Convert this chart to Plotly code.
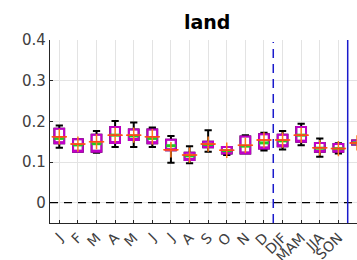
import plotly.graph_objects as go

categories = ["J", "F", "M", "A", "M", "J", "J", "A", "S", "O", "N", "D",
              "DJF", "MAM", "JJA", "SON", ""]
positions = list(range(1, 18))

upper_whisker = [0.190, 0.156, 0.176, 0.201, 0.197, 0.185, 0.164, 0.139, 0.178, 0.137, 0.166, 0.172,
                 0.176, 0.194, 0.158, 0.146, 0.153]
box_top = [0.182, 0.156, 0.167, 0.186, 0.180, 0.180, 0.155, 0.123, 0.150, 0.137, 0.163, 0.168,
           0.167, 0.186, 0.147, 0.144, 0.153]
medians = [0.162, 0.144, 0.150, 0.166, 0.166, 0.162, 0.130, 0.117, 0.144, 0.129, 0.141, 0.154,
           0.154, 0.166, 0.135, 0.133, 0.147]
green_mid = [0.158, 0.142, 0.145, 0.166, 0.164, 0.158, 0.140, 0.115, 0.143, 0.128, 0.139, 0.147,
             0.152, 0.166, 0.134, 0.133, 0.147]
box_bottom = [0.146, 0.125, 0.125, 0.147, 0.154, 0.146, 0.129, 0.105, 0.136, 0.121, 0.121, 0.133,
              0.139, 0.150, 0.125, 0.125, 0.143]
lower_whisker = [0.135, 0.125, 0.123, 0.137, 0.137, 0.137, 0.098, 0.097, 0.125, 0.117, 0.121, 0.128,
                 0.131, 0.141, 0.113, 0.121, 0.143]

FONT = "DejaVu Sans"
fig = go.Figure()

# black whiskers with caps
fig.add_trace(go.Box(
    x=positions, q1=box_bottom, median=box_bottom, q3=box_top,
    lowerfence=lower_whisker, upperfence=upper_whisker,
    width=0.52, whiskerwidth=0.75,
    line=dict(color="black", width=2), fillcolor="rgba(0,0,0,0)",
    boxpoints=False, hoverinfo="skip", showlegend=False))
# magenta boxes
fig.add_trace(go.Box(
    x=positions, q1=box_bottom, median=box_bottom, q3=box_top,
    lowerfence=box_bottom, upperfence=box_top,
    width=0.52, whiskerwidth=0,
    line=dict(color="#c000c8", width=2), fillcolor="rgba(255,255,255,0.6)",
    boxpoints=False, hoverinfo="skip", showlegend=False))
# green marks
fig.add_trace(go.Scatter(
    x=positions, y=green_mid, mode="markers",
    marker=dict(symbol="line-ew", size=7, line=dict(color="#22cc22", width=3)),
    hoverinfo="skip", showlegend=False))
# orange medians (+)
fig.add_trace(go.Scatter(
    x=positions, y=medians, mode="markers",
    marker=dict(symbol="cross-thin", size=11, line=dict(color="#ff7a1a", width=1.5)),
    hoverinfo="skip", showlegend=False))
fig.add_trace(go.Scatter(
    x=positions, y=medians, mode="markers",
    marker=dict(symbol="line-ew", size=10, line=dict(color="#ff4020", width=1.5)),
    hoverinfo="skip", showlegend=False))

fig.add_shape(type="line", xref="paper", x0=0, x1=1, yref="y", y0=0, y1=0,
              line=dict(color="black", width=1.2, dash="8px,6px"))
fig.add_shape(type="line", xref="x", x0=12.5, x1=12.5, yref="y", y0=-0.05, y1=0.395,
              line=dict(color="#1a1acc", width=1.5, dash="9px,6px"))
fig.add_shape(type="line", xref="x", x0=16.5, x1=16.5, yref="y", y0=-0.05, y1=0.4,
              line=dict(color="#1a1acc", width=1.5))

fig.add_annotation(text="<b>land</b>", xref="paper", yref="paper", x=0.511, y=1.098,
                   showarrow=False, xanchor="center", yanchor="middle",
                   font=dict(family=FONT, size=19, color="black"))

fig.update_layout(
    width=357, height=260,
    margin=dict(l=50, r=0, t=40, b=37, autoexpand=False),
    paper_bgcolor="white", plot_bgcolor="white",
    boxmode="overlay",
    font=dict(family=FONT, color="#404040"),
    xaxis=dict(range=[0.5, 17.0], tickmode="array", tickvals=positions, ticktext=categories,
               tickangle=-45, tickfont=dict(size=14, color="#404040"), automargin=False,
               showgrid=True, gridcolor="#e3e3e3", gridwidth=1,
               showline=True, linecolor="#262626", linewidth=1.2, mirror=False,
               ticks="inside", ticklen=3, tickcolor="#262626", zeroline=False),
    yaxis=dict(range=[-0.05, 0.4], tickvals=[0, 0.1, 0.2, 0.3, 0.4],
               ticktext=["0", "0.1", "0.2", "0.3", "0.4"], automargin=False,
               tickfont=dict(size=15, color="#404040"),
               showgrid=True, gridcolor="#e3e3e3", gridwidth=1,
               showline=True, linecolor="#262626", linewidth=1.2, mirror=False,
               ticks="inside", ticklen=3, tickcolor="#262626", zeroline=False),
)

fig.write_html("out.html", config={"displayModeBar": False},
               post_script="document.body.style.margin='0';document.body.style.overflow='hidden';")
